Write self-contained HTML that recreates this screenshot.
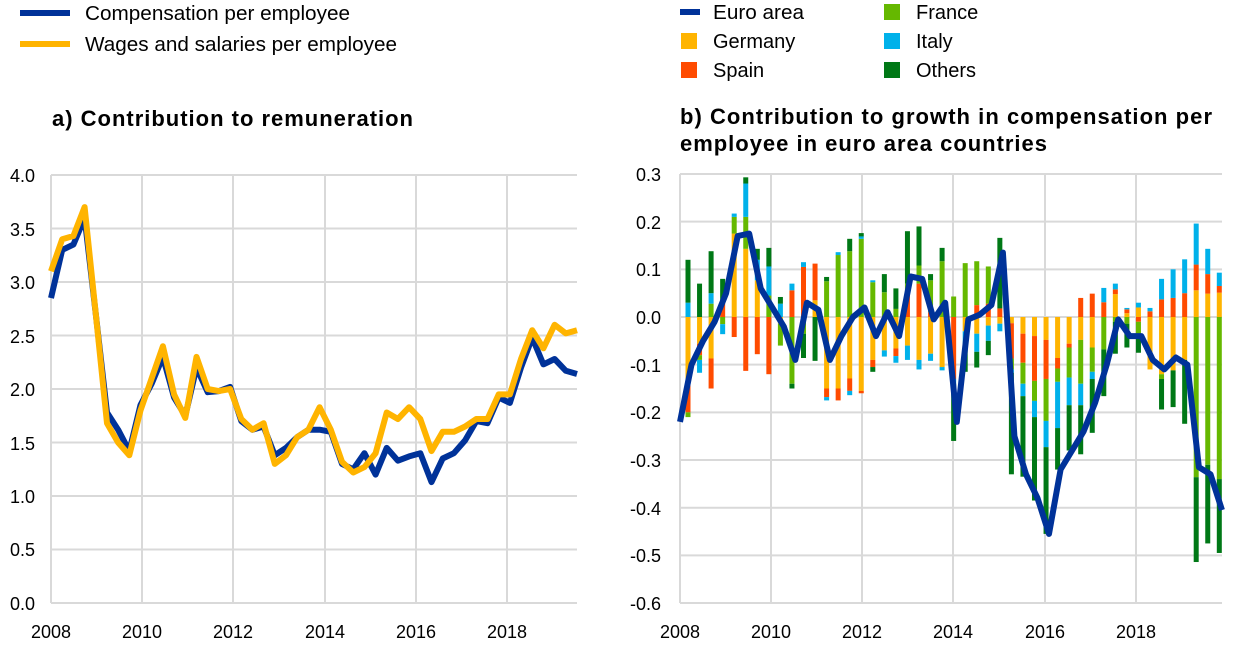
<!DOCTYPE html>
<html><head><meta charset="utf-8"><style>
body{margin:0;background:#fff;width:1240px;height:645px;overflow:hidden}
svg{position:absolute;left:0;top:0}
text{font-family:"Liberation Sans",Arial,sans-serif;fill:#000}
</style></head><body>
<svg id="s" width="1240" height="645" xmlns="http://www.w3.org/2000/svg">
<g id="grid" stroke="#d9d9d9" stroke-width="2"></g>
<g id="bars"></g>
<g id="lines" fill="none" stroke-linejoin="round"></g>
<!-- legends -->
<line x1="20" y1="13" x2="70" y2="13" stroke="#003299" stroke-width="6"/>
<text x="85" y="20" font-size="20" textLength="265" lengthAdjust="spacingAndGlyphs">Compensation per employee</text>
<line x1="20" y1="44" x2="70" y2="44" stroke="#FFB400" stroke-width="6"/>
<text x="85" y="51" font-size="20" textLength="312" lengthAdjust="spacingAndGlyphs">Wages and salaries per employee</text>
<line x1="680" y1="12" x2="700" y2="12" stroke="#003299" stroke-width="6"/>
<text x="713" y="19" font-size="20" textLength="91" lengthAdjust="spacingAndGlyphs">Euro area</text>
<rect x="681" y="33" width="16" height="16" fill="#FFB400"/>
<text x="713" y="48" font-size="20">Germany</text>
<rect x="681" y="62" width="16" height="16" fill="#FF4B00"/>
<text x="713" y="77" font-size="20">Spain</text>
<rect x="884" y="4" width="16" height="16" fill="#65B800"/>
<text x="916" y="19" font-size="20">France</text>
<rect x="884" y="33" width="16" height="16" fill="#00B1EA"/>
<text x="916" y="48" font-size="20">Italy</text>
<rect x="884" y="62" width="16" height="16" fill="#007816"/>
<text x="916" y="77" font-size="20">Others</text>
<text x="52" y="126" font-size="22" font-weight="bold" textLength="361" lengthAdjust="spacing">a) Contribution to remuneration</text>
<text x="680" y="124" font-size="22" font-weight="bold" textLength="532" lengthAdjust="spacing">b) Contribution to growth in compensation per</text>
<text x="680" y="151" font-size="22" font-weight="bold" textLength="367" lengthAdjust="spacing">employee in euro area countries</text>
<g font-size="18" text-anchor="end">
<text x="35" y="182">4.0</text><text x="35" y="236">3.5</text><text x="35" y="289">3.0</text><text x="35" y="343">2.5</text><text x="35" y="396">2.0</text><text x="35" y="450">1.5</text><text x="35" y="503">1.0</text><text x="35" y="556">0.5</text><text x="35" y="610">0.0</text>
<text x="661" y="181">0.3</text><text x="661" y="229">0.2</text><text x="661" y="276">0.1</text><text x="661" y="324">0.0</text><text x="661" y="372">-0.1</text><text x="661" y="419">-0.2</text><text x="661" y="467">-0.3</text><text x="661" y="515">-0.4</text><text x="661" y="562">-0.5</text><text x="661" y="610">-0.6</text>
</g>
<g font-size="18" text-anchor="middle">
<text x="51" y="638">2008</text><text x="142" y="638">2010</text><text x="233" y="638">2012</text><text x="325" y="638">2014</text><text x="416" y="638">2016</text><text x="507" y="638">2018</text>
<text x="680" y="638">2008</text><text x="771" y="638">2010</text><text x="862" y="638">2012</text><text x="953" y="638">2014</text><text x="1045" y="638">2016</text><text x="1136" y="638">2018</text>
</g>
</svg>
<script>
var NS="http://www.w3.org/2000/svg";
function el(p,t,a){var e=document.createElementNS(NS,t);for(var k in a)e.setAttribute(k,a[k]);document.getElementById(p).appendChild(e);return e;}
for(var i=0;i<=8;i++){var y=175+i*53.5;el("grid","line",{x1:51,x2:577,y1:y,y2:y});}
[51,142,233,325,416,507].forEach(function(x){el("grid","line",{x1:x,x2:x,y1:175,y2:603});});
for(var i=0;i<=9;i++){var y=174+i*47.67;el("grid","line",{x1:680,x2:1222,y1:y,y2:y});}
[680,771,862,953,1045,1136].forEach(function(x){el("grid","line",{x1:x,x2:x,y1:174,y2:603});});
function ly(v){return 603-v*107;}
function ry(v){return 317-v*476.7;}
var yel=[3.1,3.4,3.43,3.7,2.7,1.68,1.5,1.38,1.8,2.1,2.4,1.95,1.73,2.3,2.0,1.98,2.0,1.72,1.62,1.68,1.3,1.38,1.55,1.62,1.83,1.62,1.32,1.22,1.27,1.4,1.78,1.72,1.83,1.72,1.42,1.6,1.6,1.65,1.72,1.72,1.95,1.95,2.28,2.55,2.38,2.6,2.52,2.55];
var blu=[2.85,3.3,3.35,3.6,2.7,1.78,1.62,1.42,1.85,2.05,2.3,1.92,1.75,2.2,1.97,1.98,2.02,1.7,1.62,1.65,1.38,1.45,1.55,1.62,1.62,1.6,1.3,1.25,1.4,1.2,1.45,1.33,1.37,1.4,1.13,1.35,1.4,1.52,1.7,1.68,1.92,1.87,2.2,2.48,2.23,2.28,2.17,2.14];
function path(arr,x0,x1,f){var s="",d=(x1-x0)/(arr.length-1);arr.forEach(function(v,i){s+=(i?"L":"M")+(x0+i*d).toFixed(1)+" "+f(v).toFixed(1);});return s;}
var C=["#FFB400","#FF4B00","#65B800","#00B1EA","#007816"];
var B=[[-.143,-.057,-.01,.03,.09],[-.056,-.024,-.01,-.027,.07],[-.087,-.063,.028,.022,.088],[0,.03,-.015,-.021,.05],[.175,-.042,.035,.007,0],[.143,-.113,.067,.07,.013],[.077,-.078,0,.043,.023],[0,-.12,.045,.061,.039],[-.014,0,-.046,.028,.014],[0,.056,-.14,.014,-.01],[0,.105,-.035,.01,-.051],[.035,.077,0,0,-.092],[-.15,-.018,.075,-.007,.009],[-.15,-.025,.13,.006,0],[-.129,-.026,.138,-.009,.026],[-.155,-.005,.164,.005,.007],[-.09,-.015,.073,.004,-.01],[-.07,0,.052,-.013,.038],[-.066,-.016,.017,-.014,.043],[-.06,.05,.02,-.03,.11],[-.09,.07,.038,-.02,.082],[-.077,.01,.067,-.015,.013],[-.105,0,.117,-.007,.028],[0,-.13,.043,-.01,-.12],[-.03,0,.113,-.03,-.055],[-.035,.025,.092,-.038,-.033],[-.018,.028,.078,-.032,-.03],[-.014,.018,0,-.016,.148],[-.013,-.074,-.023,-.007,-.213],[-.035,-.061,-.044,-.026,-.169],[-.04,-.094,-.042,-.034,-.175],[-.048,-.082,-.088,-.055,-.182],[-.086,-.022,-.028,-.097,-.087],[-.056,-.008,-.063,-.058,-.095],[-.048,.04,-.092,-.045,-.103],[-.064,.049,-.051,-.015,-.113],[0,.031,-.068,.03,-.098],[.048,.01,-.01,.012,-.067],[.008,.008,-.014,.003,-.05],[.02,-.01,-.03,.01,-.035],[-.11,.012,0,.007,0],[-.12,.037,-.01,.043,-.064],[-.112,.04,0,.06,-.077],[-.09,.05,0,.071,-.134],[.056,.054,-.336,.086,-.178],[.049,.041,-.31,.053,-.165],[.051,.014,-.34,.028,-.155]];
B.forEach(function(b,i){var x=688+i*11.55-2.5,p=0,n=0;b.forEach(function(v,k){if(v==0)return;var a,c;if(v>0){a=p;c=p+v;p=c;}else{a=n;c=n+v;n=c;}var y1=ry(Math.max(a,c)),y2=ry(Math.min(a,c));el("bars","rect",{x:x,y:y1,width:5,height:Math.max(0.5,y2-y1),fill:C[k]});});});
var ea=[-0.22,-0.1,-0.05,-0.01,0.05,0.17,0.175,0.06,0.02,-0.02,-0.09,0.03,0.015,-0.09,-0.04,0.0,0.02,-0.04,0.01,-0.04,0.085,0.08,-0.005,0.03,-0.22,-0.005,0.005,0.025,0.135,-0.25,-0.33,-0.38,-0.455,-0.32,-0.28,-0.24,-0.18,-0.1,-0.005,-0.04,-0.04,-0.09,-0.11,-0.085,-0.1,-0.315,-0.33,-0.405];
el("lines","path",{d:path(blu,51,577,ly),stroke:"#003299","stroke-width":6});
el("lines","path",{d:path(yel,51,577,ly),stroke:"#FFB400","stroke-width":6});
el("lines","path",{d:path(ea,680,1222,ry),stroke:"#003299","stroke-width":6});
</script>
</body></html>
